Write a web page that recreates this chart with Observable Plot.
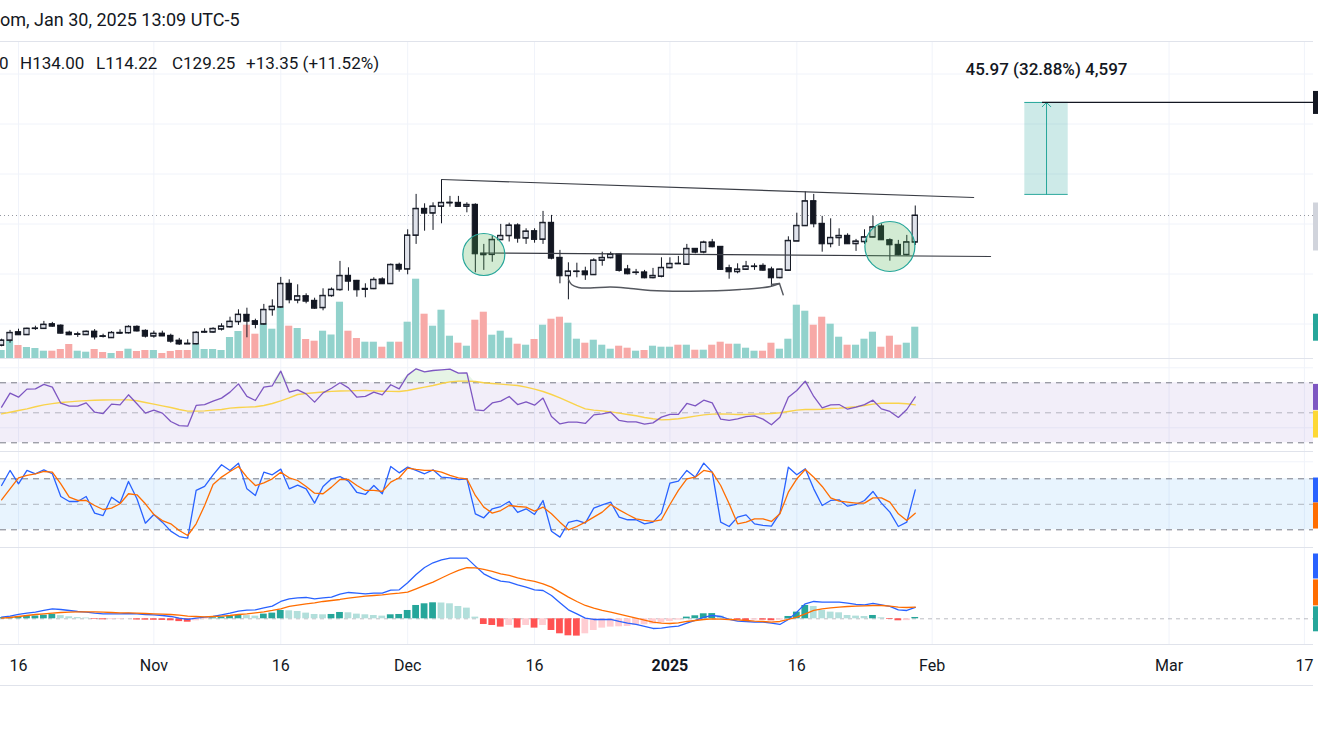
<!DOCTYPE html>
<html>
<head>
<meta charset="utf-8">
<script src="https://cdn.jsdelivr.net/npm/d3@7"></script>
<script src="https://cdn.jsdelivr.net/npm/@observablehq/plot@0.6"></script>
<style>
  html,body{margin:0;padding:0;background:#fff;}
  #root{position:relative;width:1318px;height:739px;overflow:hidden;background:#fff;font-family:Roboto,"Liberation Sans",Arial,sans-serif;color:#131722;}
  .layer{position:absolute;left:0;}
  .layer svg{display:block;}
  .sep{position:absolute;left:0;width:1313px;height:1px;background:#e0e3eb;}
  .txt{position:absolute;white-space:pre;font-size:17px;line-height:20px;color:#131722;}
</style>
</head>
<body>
<div id="root"></div>
<script>
// ---------------- DATA ----------------
const firstDay = "2024-10-14", lastDayExclusive = "2025-01-31"; // daily bars, Oct 14 2024 .. Jan 30 2025

const open = [64.3,66.8,70.9,69.6,72.7,72.7,74.9,74.2,70.7,69.8,69.6,71.2,68.9,68.1,70.6,70.5,73.6,71.6,68.9,70.2,69.1,66.7,65.2,65.0,70.9,70.9,72.4,73.5,76.1,79.6,76.4,74.9,82.1,83.4,95.1,86.9,88.9,86.6,83.1,89.1,92.1,99.1,96.6,92.3,92.6,97.3,95.1,104.6,102.4,119.3,132.6,130.4,133.8,135.5,135.6,133.8,134.6,110.1,109.7,117.1,119.1,124.3,117.9,121.4,117.3,125.6,108.1,99.1,101.2,101.3,99.6,106.8,108.1,109.8,102.3,100.7,100.8,98.1,98.8,103.1,105.2,104.8,112.6,110.9,115.8,113.6,102.9,101.1,102.3,103.7,104.1,102.3,98.1,101.8,116.4,124.1,136.4,125.1,115.1,118.1,119.1,115.1,116.1,118.4,123.8,116.9,114.6,109.6,115.9];
const high = [67.4,71.8,72.4,72.9,73.9,76.3,75.8,74.6,71.4,70.9,71.5,72.2,69.9,71.2,72.1,74.1,74.1,72.1,71.4,71.4,69.9,67.8,67.1,71.2,72.6,73.1,75.1,78.4,82.1,82.9,77.4,84.8,87.1,98.3,97.1,94.6,90.1,87.9,92.6,93.0,106.3,103.1,96.8,95.1,98.1,98.1,105.0,105.4,122.1,139.8,135.1,135.6,147.1,138.8,138.8,135.6,135.1,114.8,118.8,124.8,125.4,125.1,122.6,122.6,131.3,129.3,111.8,105.6,105.4,103.4,107.6,110.9,110.9,109.9,104.3,102.3,101.8,102.8,108.1,108.1,108.8,114.8,112.7,116.4,117.3,113.7,104.4,105.1,106.3,105.1,105.1,103.4,102.3,118.6,130.4,141.1,139.8,128.8,127.6,122.6,120.1,117.3,122.1,128.9,125.1,117.6,116.8,119.3,134.0];
const low = [63.6,65.4,69.3,69.4,71.8,72.4,73.4,70.0,69.2,68.3,69.3,67.0,68.0,67.8,69.8,70.0,71.0,68.0,67.9,68.7,65.4,64.3,64.9,64.6,70.4,70.4,71.5,73.0,74.3,68.1,72.6,74.5,78.9,82.9,85.1,85.1,85.1,82.4,81.6,88.4,91.4,91.4,88.4,88.1,92.2,94.8,94.9,100.9,99.6,114.8,121.4,121.8,125.1,133.4,133.4,130.6,100.6,101.8,105.9,116.8,116.0,115.4,114.8,115.4,114.8,107.1,95.1,87.1,98.1,96.8,99.3,103.9,107.6,100.9,99.6,99.3,97.6,97.6,98.1,102.6,104.8,104.3,110.1,110.1,113.1,101.8,97.4,100.1,101.8,101.8,101.4,93.4,97.6,101.4,116.3,123.8,123.1,110.9,113.1,113.8,114.8,111.3,114.8,118.1,116.8,106.4,109.1,109.1,114.22];
const close = [66.8,70.6,69.6,72.7,72.8,74.7,73.9,70.4,69.6,69.9,71.2,68.5,68.8,70.6,70.4,73.6,71.5,68.9,70.2,69.0,66.4,65.0,65.0,70.7,71.1,72.6,73.8,76.2,79.7,76.4,74.8,82.1,83.7,95.1,87.1,88.9,86.4,82.9,89.1,92.2,99.1,96.4,92.1,92.6,97.1,95.1,104.6,102.4,119.3,132.6,130.4,133.8,135.6,135.7,133.8,134.6,110.1,109.6,117.1,119.1,124.3,117.9,121.3,117.3,125.6,107.9,99.1,101.3,101.3,99.6,106.8,108.1,109.8,101.8,100.1,100.8,98.1,99.1,103.1,105.1,105.1,112.6,110.9,115.8,113.6,102.3,101.1,102.3,103.8,103.8,101.9,98.1,102.3,116.6,124.1,136.4,125.1,115.1,118.1,119.1,115.1,116.3,118.4,123.4,117.1,114.6,109.6,115.9,129.25];
const volume = [8.0,17.3,13.0,11.0,10.0,7.3,7.3,9.0,14.0,7.3,6.3,9.0,6.0,5.0,7.0,9.3,7.0,8.0,8.0,5.0,7.0,8.0,8.0,14.3,9.0,9.0,8.0,21.0,27.0,33.3,24.3,34.3,29.3,50.7,32.3,30.0,19.0,17.3,27.3,23.5,56.3,27.3,20.0,16.3,16.3,11.3,16.3,16.3,36.3,79.3,44.3,32.3,48.3,22.3,15.3,12.3,38.3,46.3,23.3,27.3,20.3,14.3,13.3,19.0,33.3,39.3,41.3,35.3,19.3,15.3,18.3,13.3,9.3,12.3,10.3,7.3,8.0,12.3,11.3,11.3,13.3,13.3,8.3,8.3,13.3,16.3,14.3,14.3,10.3,7.3,7.3,15.3,9.3,19.3,53.3,47.3,33.3,41.3,34.3,21.3,13.3,13.3,19.3,26.3,11.3,22.3,13.3,15.3,31.3];

const rsi = [53.8,63.1,60.4,65.8,66.0,68.9,67.1,56.4,54.4,54.4,56.6,50.4,49.5,55.8,55.3,62.0,56.0,49.8,51.8,49.8,44.2,41.5,41.1,54.9,55.5,57.8,59.8,63.8,69.3,60.9,58.2,67.1,68.0,77.8,63.8,65.3,62.6,57.1,63.3,66.4,70.0,66.6,60.4,60.9,63.8,62.0,68.7,66.0,75.1,79.3,77.3,78.2,78.6,79.1,76.4,76.6,52.0,51.5,56.6,57.8,60.9,55.5,57.3,55.1,59.8,47.5,42.6,43.8,43.8,42.9,48.6,49.3,50.4,44.9,44.0,44.0,42.4,43.3,47.1,48.9,48.9,56.2,54.6,58.4,56.6,45.8,44.9,46.0,47.5,48.0,45.8,42.0,47.1,60.4,64.9,71.1,60.9,53.3,55.3,55.5,52.4,53.8,55.5,58.4,52.6,50.9,46.9,52.2,60.6];
const rsiMA = [49.3,50.4,51.5,52.6,54.0,55.3,56.1,56.9,57.3,57.8,58.1,58.4,58.5,58.6,58.6,58.6,58.0,56.9,55.8,54.6,53.5,52.2,51.1,51.1,51.3,51.8,52.2,53.1,53.5,53.8,54.0,54.9,56.2,58.0,60.0,62.2,62.9,63.4,63.9,64.3,64.5,64.6,64.8,64.9,64.6,64.4,64.3,64.2,64.9,66.0,67.1,68.2,69.5,70.6,71.1,71.1,70.9,70.0,69.5,69.1,68.6,68.2,67.1,65.8,64.2,62.2,60.0,57.5,54.9,52.6,51.8,51.3,50.6,49.8,48.9,48.0,46.9,46.0,45.3,45.5,46.0,46.9,47.8,48.6,49.1,49.3,49.1,48.9,48.9,49.1,49.3,49.5,50.0,50.9,51.8,52.2,52.2,52.4,52.9,53.1,53.5,54.0,54.9,55.8,56.4,56.4,56.4,56.0,55.3];

const stochK = [72.1,89.8,74.1,89.8,85.9,90.6,85.9,59.2,53.3,53.3,59.2,39.6,36.8,58.4,51.4,76.8,56.5,27.8,38.0,29.0,18.4,12.1,10.2,66.3,71.0,84.7,96.5,89.8,98.4,68.2,60.4,87.8,84.7,91.4,68.2,72.5,68.2,51.4,71.0,80.0,82.7,77.2,63.9,61.6,72.1,62.4,94.5,87.0,93.7,89.8,85.9,90.6,81.9,81.2,79.2,80.0,38.8,34.1,44.7,47.4,53.3,40.4,44.7,38.0,54.5,18.4,11.4,28.6,31.0,27.8,45.5,49.4,52.5,34.9,31.8,31.8,27.0,29.0,39.6,74.9,77.2,89.8,81.9,98.4,87.8,29.0,23.9,34.9,37.6,27.0,25.1,24.3,39.6,93.7,84.7,91.8,68.2,48.6,54.5,55.3,47.8,49.8,54.5,65.1,51.4,40.8,23.9,29.0,67.0];
const stochD = [55.3,68.2,81.2,83.9,85.9,88.6,87.8,74.1,58.4,54.5,54.5,48.6,43.9,45.5,50.6,62.4,61.2,50.6,38.0,30.9,27.0,19.2,13.3,27.0,48.6,73.3,82.0,88.6,94.5,82.0,72.1,75.3,80.0,87.8,81.2,78.0,71.0,63.1,62.4,70.2,79.2,79.2,72.1,66.3,66.3,65.1,76.1,81.2,92.5,91.0,89.8,89.8,87.8,84.0,81.2,80.0,60.4,46.7,39.6,42.7,48.6,47.4,46.7,41.9,46.7,38.8,29.0,20.0,23.9,29.0,34.9,40.8,49.8,43.5,38.0,32.9,31.0,29.8,31.8,49.8,66.3,80.0,81.9,89.8,87.8,72.1,50.6,27.0,29.0,32.9,32.9,29.8,38.8,64.3,80.0,91.0,81.9,71.0,57.6,53.7,52.5,51.4,51.4,57.6,57.6,52.5,38.8,31.0,39.6];

const macd = [0.42,0.67,1.08,1.42,1.67,2.08,2.5,2.33,2.08,1.83,1.67,1.42,1.25,1.25,1.25,1.33,1.25,1.08,1.0,0.83,0.58,0.17,-0.17,0.17,0.42,0.58,1.0,1.42,1.92,2.17,2.25,2.75,3.17,4.33,5.0,5.25,5.33,5.0,5.25,5.42,6.17,6.58,6.42,6.25,6.42,6.42,7.17,7.25,9.0,11.08,12.83,14.0,14.75,15.17,15.17,15.17,13.17,11.25,10.17,9.42,9.17,8.5,7.92,7.25,7.08,5.83,4.0,2.25,1.25,0.17,-0.17,-0.17,-0.17,-0.67,-1.08,-1.42,-1.92,-2.42,-2.33,-2.0,-1.83,-1.08,-0.42,0.33,0.83,0.58,-0.17,-0.58,-0.67,-0.83,-0.83,-1.08,-1.42,-0.17,1.67,3.75,4.33,4.17,4.17,4.17,3.92,3.58,3.5,3.83,3.5,3.08,2.25,2.08,2.83];
const signal = [0.17,0.33,0.58,0.83,1.08,1.25,1.42,1.58,1.67,1.75,1.75,1.71,1.67,1.58,1.5,1.46,1.42,1.33,1.25,1.17,1.08,0.92,0.67,0.58,0.5,0.58,0.67,0.83,1.08,1.25,1.5,1.75,2.08,2.5,3.08,3.42,3.75,4.0,4.33,4.58,4.83,5.17,5.42,5.67,5.83,6.0,6.25,6.42,6.67,7.5,8.33,9.17,10.2,11.2,12.1,12.8,12.75,12.33,11.83,11.25,10.83,10.25,9.75,9.33,8.75,7.92,6.67,5.42,4.33,3.33,2.67,2.08,1.67,1.17,0.67,0.17,-0.33,-0.83,-1.08,-1.17,-1.0,-0.67,-0.42,-0.17,0.0,-0.08,-0.17,-0.25,-0.42,-0.58,-0.67,-0.83,-0.67,-0.17,0.42,1.25,2.08,2.5,2.75,2.92,3.08,3.17,3.25,3.33,3.33,3.17,2.92,2.83,2.92];
const hist = [0.3,0.4,0.5,0.6,0.7,0.9,1.1,0.8,0.5,0.3,0.2,-0.15,-0.25,-0.2,-0.15,-0.05,-0.3,-0.33,-0.36,-0.4,-0.5,-0.7,-0.85,-0.5,-0.17,0.25,0.42,0.67,0.83,0.8,0.67,1.17,1.42,2.08,2.0,1.83,1.42,1.08,1.0,1.08,1.58,1.5,1.17,1.0,0.83,0.67,1.0,1.08,2.08,3.33,3.75,4.0,3.95,3.75,3.08,2.67,0.42,-1.42,-1.67,-2.08,-1.67,-2.33,-1.67,-2.33,-1.67,-2.92,-3.75,-4.25,-4.33,-3.75,-2.92,-2.33,-2.08,-2.0,-1.92,-1.67,-1.5,-1.33,-1.0,-0.67,-0.33,0.42,0.75,1.25,1.3,0.67,0.05,-0.33,-0.42,-0.3,-0.33,-0.5,-0.33,0.58,1.67,3.33,3.08,2.08,1.67,1.5,0.83,0.67,0.58,0.83,0.25,-0.17,-0.5,-0.45,0.33];

// time axis
const tickDays = ["2024-10-16","2024-11-01","2024-11-16","2024-12-01","2024-12-16","2025-01-01","2025-01-16","2025-02-01","2025-03-01","2025-03-17"];
const tickLabels = ["16","Nov","16","Dec","16","2025","16","Feb","Mar","17"];

// drawings (day = days after Oct 16 2024, price in USD)
const resistanceLine = [{day: 50.0, price: 147.25}, {day: 112.9, price: 138.25}];
const supportLine = [{day: 54.6, price: 110.5}, {day: 114.9, price: 108.75}];
const roundedBottom = [{day:65.01,price:97.25},{day:65.37,price:94.75},{day:66.19,price:93.25},{day:67.61,price:93.0},{day:69.98,price:93.5},{day:72.34,price:92.75},{day:74.70,price:91.75},{day:79.43,price:91.4},{day:85.34,price:92.25},{day:88.89,price:93.75},{day:89.95,price:95.25}];
const roundedBottomHead = [{day:89.01,price:94.75},{day:89.95,price:95.25},{day:90.39,price:89.6}];
const circleA = [{day: 55.0, price: 109.75}];
const circleB = [{day: 103.0, price: 113.75}];
const measureDays = [118.95, 124.08];
const measurePrices = [139.81, 185.78];
const measureLabel = "45.97 (32.88%) 4,597";
const targetLineDay = 121.04;

// price-scale tags (values where the tags sit)
const priceTagValues = [185.78, 123.75];
const rsiTagValues = [60.6, 42.5];
const stochTagValues = [66.8, 36.8];
const macdTagValues = [13.2, 6.6, 0.0];

const headerText = "om, Jan 30, 2025 13:09 UTC-5";
const legendItems = ["0", "H134.00", "L114.22", "C129.25", "+13.35 (+11.52%)"];

// ---------------- LAYOUT ----------------
const W = 1318, CHART_R = 1313;
const DAY = 864e5;
const anchorDate = new Date("2024-10-16T00:00:00Z"), anchorPx = 18, pxPerDay = 8.46;
const shift = (d, days) => new Date(+d + days * DAY);
const dayAt = d => shift(anchorDate, d);
const xDomain = [shift(anchorDate, -anchorPx / pxPerDay), shift(anchorDate, (W - anchorPx) / pxPerDay)];
const chartRight = shift(anchorDate, (CHART_R - anchorPx) / pxPerDay);
const xEnd = xDomain[1];
const FONT = 'Roboto, "Liberation Sans", Arial, sans-serif';
const INK = "#131722", GRID = "#f0f3fa", DRAW = "#3a3d45", TEAL = "#26A69A";

const dates = d3.utcDay.range(new Date(firstDay + "T00:00:00Z"), new Date(lastDayExclusive + "T00:00:00Z"));
const rows = dates.map((date, i) => ({
  date, open: open[i], high: high[i], low: low[i], close: close[i], volume: volume[i],
  up: close[i] >= open[i], rsi: rsi[i], rsiMA: rsiMA[i], k: stochK[i], dd: stochD[i],
  macd: macd[i], signal: signal[i], hist: hist[i],
  histColor: hist[i] >= 0 ? (hist[i] >= (i ? hist[i-1] : hist[i]) ? "#26A69A" : "#B2DFDB")
                          : (hist[i] <= (i ? hist[i-1] : hist[i]) ? "#FF5252" : "#FFCDD2")
}));
const tickDates = tickDays.map(s => new Date(s + "T00:00:00Z"));
const last = rows.length - 1;

const root = document.getElementById("root");
function addPlot(top, height, yDomain, marks) {
  const svg = Plot.plot({
    width: W, height, margin: 0,
    style: {background: "transparent", fontFamily: FONT, overflow: "hidden"},
    x: {type: "utc", domain: xDomain, range: [0, W], axis: null},
    y: {domain: yDomain, range: [height, 0], axis: null},
    marks
  });
  const div = document.createElement("div");
  div.className = "layer";
  div.style.top = top + "px";
  div.appendChild(svg);
  root.appendChild(div);
}
function sep(y) {
  const d = document.createElement("div"); d.className = "sep"; d.style.top = y + "px"; root.appendChild(d);
}
const vGrid = Plot.ruleX(tickDates, {stroke: GRID});
const tag = (values, color, h) => Plot.ruleY(values, {x1: chartRight, x2: xEnd, stroke: color, strokeWidth: h});

// ---------- price pane (top 42, height 316) ----------
const priceDomain = [57.75, 215.75];
addPlot(42, 316, priceDomain, [
  Plot.ruleY([75, 100, 125, 150, 175, 200], {x1: xDomain[0], x2: chartRight, stroke: GRID}),
  vGrid
]);
addPlot(42, 316, [0, 316], [
  Plot.rectY(rows, {x1: d => shift(d.date, -0.42), x2: d => shift(d.date, 0.42), y: "volume",
    fill: d => d.up ? "#92D2CC" : "#F7A9A7"}),
  tag([volume[last]], TEAL, 27)
]);
addPlot(42, 316, priceDomain, [
  Plot.ruleY([close[last]], {x1: xDomain[0], x2: chartRight, stroke: "#9598A1", strokeDasharray: "1,3"}),
  Plot.ruleX(rows, {x: "date", y1: "low", y2: "high", stroke: INK, strokeWidth: 1}),
  Plot.rect(rows, {x1: d => shift(d.date, -0.31), x2: d => shift(d.date, 0.31), y1: "open", y2: "close",
    fill: d => d.up ? "#E0E3EB" : INK, stroke: INK, strokeWidth: 1}),
  Plot.ruleY(rows, {y: "open", x1: d => shift(d.date, -0.36), x2: d => shift(d.date, 0.36), stroke: INK}),
  Plot.ruleY(rows, {y: "close", x1: d => shift(d.date, -0.36), x2: d => shift(d.date, 0.36), stroke: INK}),
  Plot.line(resistanceLine, {x: d => dayAt(d.day), y: "price", stroke: DRAW, strokeWidth: 1.2}),
  Plot.line(supportLine, {x: d => dayAt(d.day), y: "price", stroke: DRAW, strokeWidth: 1.2}),
  Plot.line(roundedBottom, {x: d => dayAt(d.day), y: "price", stroke: "#55585f", strokeWidth: 1.4, curve: "catmull-rom"}),
  Plot.line(roundedBottomHead, {x: d => dayAt(d.day), y: "price", stroke: "#55585f", strokeWidth: 1.4}),
  Plot.dot(circleA, {x: d => dayAt(d.day), y: "price", r: 21, fill: "#4CAF50", fillOpacity: 0.25, stroke: "#26A69A", strokeWidth: 1.2}),
  Plot.dot(circleB, {x: d => dayAt(d.day), y: "price", r: 25, fill: "#4CAF50", fillOpacity: 0.25, stroke: "#26A69A", strokeWidth: 1.2}),
  Plot.rect([0], {x1: dayAt(measureDays[0]), x2: dayAt(measureDays[1]), y1: measurePrices[0], y2: measurePrices[1], fill: TEAL, fillOpacity: 0.23}),
  Plot.ruleY(measurePrices, {x1: dayAt(measureDays[0]), x2: dayAt(measureDays[1]), stroke: TEAL}),
  Plot.arrow([0], {x1: dayAt((measureDays[0] + measureDays[1]) / 2), x2: dayAt((measureDays[0] + measureDays[1]) / 2),
    y1: measurePrices[0], y2: measurePrices[1], stroke: TEAL, strokeWidth: 1, headLength: 9, headAngle: 90}),
  Plot.ruleY([measurePrices[1]], {x1: dayAt(targetLineDay), x2: chartRight, stroke: INK, strokeWidth: 1.3}),
  Plot.text([measureLabel], {x: dayAt((measureDays[0] + measureDays[1]) / 2), y: measurePrices[1], dy: -33,
    text: d => d, fontSize: 17, fontWeight: 500, fill: INK}),
  tag([priceTagValues[0]], INK, 23),
  tag([priceTagValues[1]], "#D1D4DC", 48)
]);

// ---------- RSI pane (top 359, height 92) ----------
addPlot(359, 92, [24.2, 85.53], [
  Plot.ruleY([40, 80], {x1: xDomain[0], x2: chartRight, stroke: GRID}),
  vGrid,
  Plot.rect([0], {x1: xDomain[0], x2: chartRight, y1: 30, y2: 70, fill: "#7E57C2", fillOpacity: 0.1}),
  Plot.ruleY([70, 30], {x1: xDomain[0], x2: chartRight, stroke: "#787B86", strokeDasharray: "6,5"}),
  Plot.ruleY([50], {x1: xDomain[0], x2: chartRight, stroke: "#787B86", strokeOpacity: 0.5, strokeDasharray: "6,5"}),
  Plot.areaY(rows, {x: "date", y1: 70, y2: d => Math.max(d.rsi, 70), fill: "#4CAF50", fillOpacity: 0.14}),
  Plot.lineY(rows, {x: "date", y: "rsiMA", stroke: "#F9D34C", strokeWidth: 1.4}),
  Plot.lineY(rows, {x: "date", y: "rsi", stroke: "#7E57C2", strokeWidth: 1.3}),
  tag([rsiTagValues[0]], "#7E57C2", 26),
  tag([rsiTagValues[1]], "#FDD835", 27)
]);

// ---------- Stochastic pane (top 452, height 95) ----------
addPlot(452, 95, [-0.82, 110.94], [
  Plot.ruleY([100], {x1: xDomain[0], x2: chartRight, stroke: GRID}),
  vGrid,
  Plot.rect([0], {x1: xDomain[0], x2: chartRight, y1: 20, y2: 80, fill: "#2196F3", fillOpacity: 0.1}),
  Plot.ruleY([80, 20], {x1: xDomain[0], x2: chartRight, stroke: "#787B86", strokeDasharray: "6,5"}),
  Plot.ruleY([50], {x1: xDomain[0], x2: chartRight, stroke: "#787B86", strokeOpacity: 0.5, strokeDasharray: "6,5"}),
  Plot.lineY(rows, {x: "date", y: "k", stroke: "#2962FF", strokeWidth: 1.3}),
  Plot.lineY(rows, {x: "date", y: "dd", stroke: "#FF6D00", strokeWidth: 1.3}),
  tag([stochTagValues[0]], "#2962FF", 25),
  tag([stochTagValues[1]], "#FF6D00", 26)
]);

// ---------- MACD pane (top 548, height 96) ----------
addPlot(548, 96, [-6.425, 17.575], [
  vGrid,
  Plot.ruleY([0], {x1: xDomain[0], x2: chartRight, stroke: "#787B86", strokeOpacity: 0.5, strokeDasharray: "4,4"}),
  Plot.rectY(rows, {x1: d => shift(d.date, -0.4), x2: d => shift(d.date, 0.4), y: "hist", fill: "histColor"}),
  Plot.lineY(rows, {x: "date", y: "macd", stroke: "#2962FF", strokeWidth: 1.3}),
  Plot.lineY(rows, {x: "date", y: "signal", stroke: "#FF6D00", strokeWidth: 1.3}),
  tag([macdTagValues[0]], "#2962FF", 25),
  tag([macdTagValues[1]], "#FF6D00", 26),
  tag([macdTagValues[2]], TEAL, 25)
]);

// ---------- time axis (top 645, height 40) ----------
const tickRows = tickDates.map((date, i) => ({date, label: tickLabels[i]}));
addPlot(645, 40, [0, 1], [
  Plot.text(tickRows.filter(d => d.label !== "2025"), {x: "date", frameAnchor: "middle", text: "label", fontSize: 16, fill: INK}),
  Plot.text(tickRows.filter(d => d.label === "2025"), {x: "date", frameAnchor: "middle", text: "label", fontSize: 16, fontWeight: "bold", fill: INK})
]);

[41, 358, 451, 547, 644, 685].forEach(sep);

// ---------- header texts ----------
const h = document.createElement("div");
h.className = "txt"; h.style.left = "0px"; h.style.top = "10px"; h.style.fontSize = "18px"; h.textContent = headerText;
root.appendChild(h);
const legendX = [-1, 20, 96, 172, 246];
legendItems.forEach((t, i) => {
  const s = document.createElement("div");
  s.className = "txt"; s.style.left = legendX[i] + "px"; s.style.top = "53px"; s.textContent = t;
  root.appendChild(s);
});
</script>
</body>
</html>
